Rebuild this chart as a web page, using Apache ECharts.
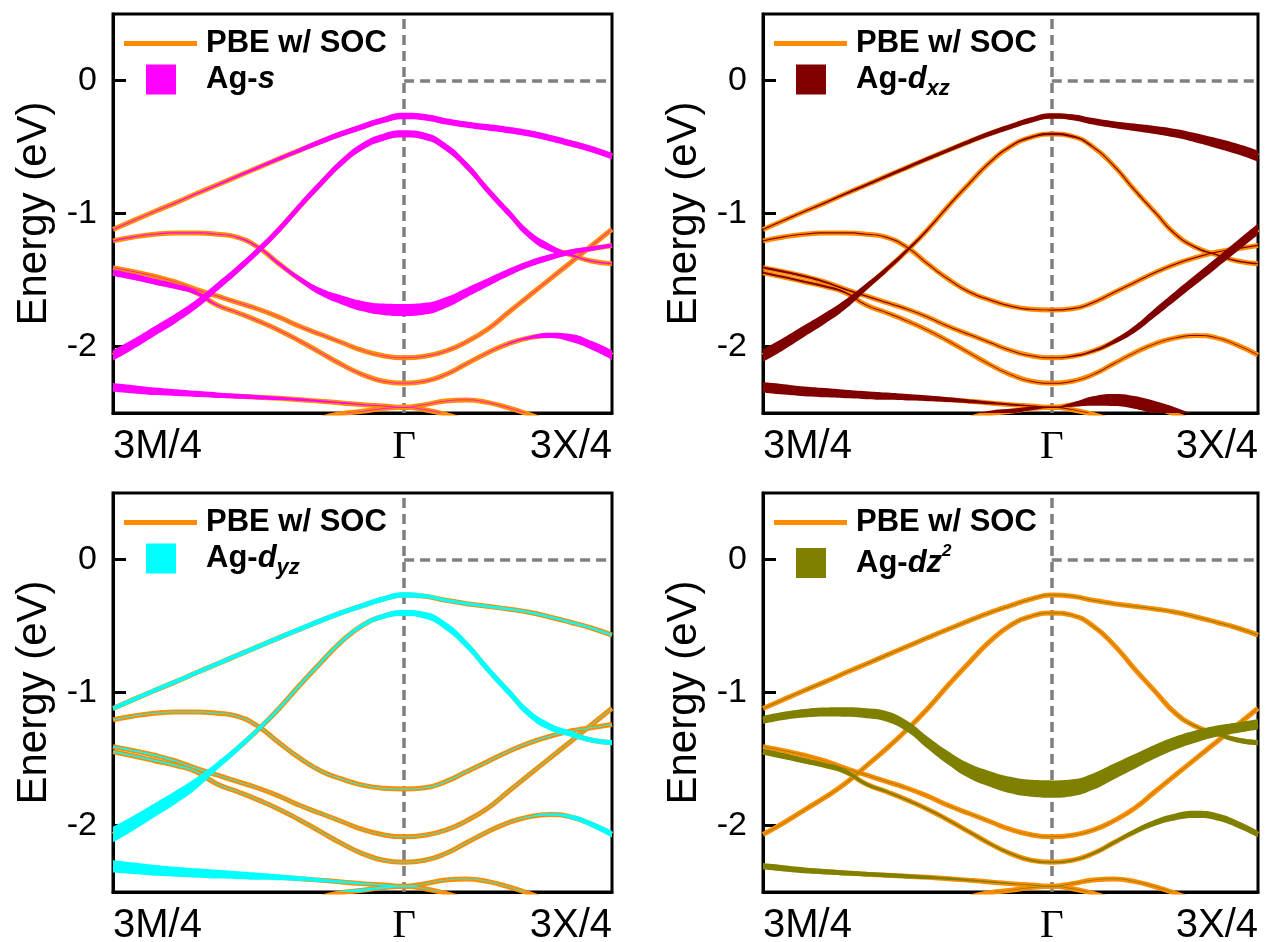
<!DOCTYPE html>
<html>
<head>
<meta charset="utf-8">
<script src="https://cdn.jsdelivr.net/npm/echarts@6/dist/echarts.min.js"></script>
<style>html,body{margin:0;padding:0;background:#fff}#c{width:1265px;height:942px}</style>
</head>
<body>
<div id="c"></div>
<script>
// ---- k-path (Γ = 0; 3M/4 on the left, 3X/4 on the right), uniform 0.1 steps ----
const kPath = [-1.4,-1.3,-1.2,-1.1,-1.0,-0.9,-0.8,-0.7,-0.6,-0.5,-0.4,-0.3,-0.2,-0.1,0,0.1,0.2,0.3,0.4,0.5,0.6,0.7,0.8,0.9,1.0];
const kTickValues = [-1.4, 0, 1.0];
const kTickLabels = ['3M/4', 'Γ', '3X/4'];
const eTickValues = [-2, -1, 0];

// ---- PBE w/ SOC band energies (eV) ----
const bandA = [-1.120,-1.052,-0.985,-0.920,-0.852,-0.786,-0.719,-0.653,-0.587,-0.523,-0.460,-0.400,-0.347,-0.297,-0.267,-0.276,-0.307,-0.332,-0.352,-0.372,-0.397,-0.432,-0.472,-0.515,-0.568];
const bandB = [-2.068,-1.980,-1.884,-1.789,-1.683,-1.553,-1.420,-1.276,-1.118,-0.942,-0.774,-0.616,-0.495,-0.427,-0.402,-0.420,-0.500,-0.640,-0.820,-0.990,-1.156,-1.256,-1.310,-1.357,-1.377];
const bandC = [-1.206,-1.176,-1.156,-1.146,-1.146,-1.156,-1.180,-1.256,-1.380,-1.495,-1.590,-1.650,-1.696,-1.720,-1.726,-1.716,-1.670,-1.595,-1.520,-1.445,-1.380,-1.330,-1.290,-1.265,-1.240];
const bandE = [-1.407,-1.437,-1.472,-1.515,-1.570,-1.620,-1.670,-1.720,-1.780,-1.850,-1.910,-1.970,-2.030,-2.070,-2.085,-2.073,-2.035,-1.965,-1.872,-1.746,-1.620,-1.495,-1.370,-1.244,-1.118];
const bandF = [-1.445,-1.477,-1.513,-1.548,-1.595,-1.688,-1.746,-1.809,-1.879,-1.960,-2.048,-2.136,-2.211,-2.261,-2.276,-2.261,-2.211,-2.130,-2.048,-1.980,-1.935,-1.917,-1.935,-1.990,-2.065];
const bandG = [-2.307,-2.322,-2.337,-2.347,-2.357,-2.366,-2.374,-2.382,-2.390,-2.400,-2.412,-2.424,-2.437,-2.447,-2.457,-2.437,-2.410,-2.402,-2.420,-2.460,-2.510,-2.570,null,null,null];
const bandH = [null,null,null,null,null,null,null,null,null,-2.600,-2.540,-2.505,-2.487,-2.467,-2.457,-2.475,-2.510,-2.560,null,null,null,null,null,null,null];

// ---- orbital weights (0..1) per band ----
// Ag-s
const wS_A = [0.06,0.06,0.07,0.08,0.09,0.10,0.12,0.15,0.20,0.25,0.30,0.33,0.35,0.36,0.37,0.37,0.37,0.37,0.37,0.37,0.37,0.37,0.37,0.37,0.37];
const wS_B = [0.60,0.58,0.56,0.55,0.52,0.48,0.45,0.42,0.42,0.42,0.42,0.42,0.42,0.42,0.42,0.42,0.44,0.45,0.45,0.45,0.45,0.42,0.15,0.08,0.08];
const wS_C = [0.07,0.07,0.07,0.07,0.07,0.07,0.08,0.12,0.20,0.30,0.42,0.52,0.60,0.66,0.70,0.68,0.62,0.55,0.48,0.42,0.38,0.35,0.30,0.25,0.22];
const wS_E = [0.04,0.04,0.04,0.04,0.04,0.04,0.04,0.04,0.04,0.04,0.04,0.04,0.04,0.04,0.04,0.04,0.04,0.04,0.04,0.04,0.04,0.04,0.04,0.04,0.04];
const wS_F = [0.38,0.36,0.34,0.30,0.25,0.10,0.05,0.04,0.04,0.04,0.04,0.04,0.04,0.04,0.04,0.04,0.04,0.04,0.05,0.08,0.15,0.30,0.45,0.50,0.55];
const wS_G = [0.50,0.47,0.44,0.40,0.36,0.32,0.28,0.24,0.20,0.16,0.12,0.09,0.06,0.05,0.04,0.04,0.04,0.04,0.04,0.04,0.04,0.04,0.04,0.04,0.04];
const wS_H = [0.04,0.04,0.04,0.04,0.04,0.04,0.04,0.04,0.04,0.04,0.04,0.04,0.04,0.04,0.04,0.04,0.04,0.04,0.04,0.04,0.04,0.04,0.04,0.04,0.04];
// Ag-dxz
const wXZ_A = [0.08,0.08,0.08,0.10,0.12,0.14,0.16,0.18,0.20,0.22,0.25,0.28,0.30,0.32,0.33,0.35,0.38,0.40,0.43,0.46,0.50,0.54,0.58,0.62,0.65];
const wXZ_B = [0.72,0.70,0.66,0.62,0.55,0.40,0.30,0.22,0.15,0.12,0.10,0.10,0.10,0.12,0.15,0.12,0.10,0.10,0.10,0.10,0.10,0.10,0.08,0.08,0.08];
const wXZ_C = [0.07,0.07,0.07,0.07,0.07,0.07,0.07,0.07,0.07,0.07,0.07,0.07,0.07,0.07,0.07,0.07,0.07,0.07,0.07,0.07,0.07,0.07,0.07,0.07,0.07];
const wXZ_E = [0.12,0.12,0.12,0.12,0.10,0.08,0.06,0.06,0.06,0.06,0.06,0.06,0.06,0.06,0.06,0.08,0.12,0.25,0.40,0.50,0.55,0.58,0.60,0.62,0.65];
const wXZ_F = [0.12,0.12,0.12,0.12,0.10,0.06,0.05,0.05,0.05,0.05,0.05,0.05,0.05,0.05,0.05,0.05,0.05,0.05,0.05,0.05,0.05,0.05,0.05,0.05,0.05];
const wXZ_G = [0.62,0.60,0.57,0.54,0.50,0.46,0.42,0.37,0.32,0.27,0.22,0.17,0.12,0.08,0.06,0.25,0.55,0.70,0.75,0.78,0.80,0.80,0.80,0.80,0.80];
const wXZ_H = [0.30,0.30,0.30,0.30,0.30,0.30,0.30,0.30,0.30,0.35,0.35,0.35,0.30,0.20,0.08,0.04,0.04,0.04,0.04,0.04,0.04,0.04,0.04,0.04,0.04];
// Ag-dyz
const wYZ_A = [0.26,0.26,0.26,0.26,0.26,0.26,0.27,0.28,0.28,0.29,0.30,0.30,0.31,0.32,0.33,0.25,0.20,0.18,0.16,0.15,0.14,0.14,0.14,0.14,0.14];
const wYZ_B = [0.90,0.85,0.80,0.75,0.65,0.45,0.38,0.30,0.22,0.20,0.20,0.22,0.25,0.30,0.35,0.40,0.45,0.45,0.45,0.45,0.45,0.42,0.35,0.30,0.30];
const wYZ_C = [0.06,0.06,0.06,0.06,0.06,0.06,0.06,0.06,0.06,0.06,0.06,0.06,0.06,0.06,0.06,0.06,0.06,0.06,0.06,0.06,0.06,0.06,0.06,0.06,0.06];
const wYZ_E = [0.10,0.10,0.10,0.10,0.08,0.05,0.04,0.04,0.04,0.04,0.04,0.04,0.04,0.04,0.04,0.04,0.04,0.04,0.04,0.04,0.04,0.04,0.04,0.04,0.04];
const wYZ_F = [0.10,0.10,0.10,0.10,0.08,0.05,0.04,0.04,0.04,0.04,0.04,0.04,0.04,0.04,0.04,0.04,0.04,0.04,0.04,0.05,0.08,0.15,0.25,0.32,0.38];
const wYZ_G = [0.70,0.66,0.62,0.58,0.54,0.50,0.45,0.40,0.34,0.28,0.22,0.16,0.12,0.08,0.06,0.04,0.04,0.04,0.04,0.04,0.04,0.04,0.04,0.04,0.04];
const wYZ_H = [0.20,0.20,0.20,0.20,0.20,0.20,0.20,0.20,0.20,0.20,0.20,0.20,0.18,0.14,0.10,0.04,0.04,0.04,0.04,0.04,0.04,0.04,0.04,0.04,0.04];
// Ag-dz2
const wZ2_A = [0.06,0.06,0.06,0.06,0.06,0.06,0.06,0.06,0.06,0.06,0.06,0.06,0.06,0.06,0.06,0.06,0.06,0.06,0.06,0.06,0.06,0.06,0.06,0.06,0.06];
const wZ2_B = [0.05,0.05,0.05,0.05,0.05,0.05,0.05,0.05,0.05,0.05,0.05,0.05,0.05,0.05,0.05,0.05,0.05,0.05,0.05,0.05,0.05,0.08,0.20,0.28,0.30];
const wZ2_C = [0.45,0.47,0.50,0.52,0.55,0.57,0.60,0.63,0.70,0.78,0.85,0.90,0.95,0.98,1.00,0.98,0.95,0.90,0.85,0.80,0.75,0.70,0.65,0.62,0.60];
const wZ2_E = [0.04,0.04,0.04,0.04,0.04,0.04,0.04,0.04,0.04,0.04,0.04,0.04,0.04,0.04,0.04,0.04,0.04,0.04,0.04,0.04,0.04,0.04,0.04,0.04,0.04];
const wZ2_F = [0.35,0.35,0.33,0.30,0.28,0.20,0.15,0.12,0.12,0.12,0.12,0.12,0.12,0.12,0.12,0.12,0.15,0.20,0.28,0.35,0.40,0.42,0.42,0.40,0.38];
const wZ2_G = [0.38,0.36,0.34,0.32,0.30,0.28,0.26,0.24,0.20,0.16,0.12,0.10,0.08,0.06,0.05,0.04,0.04,0.04,0.04,0.04,0.04,0.04,0.04,0.04,0.04];
const wZ2_H = [0.04,0.04,0.04,0.04,0.04,0.04,0.04,0.04,0.04,0.04,0.04,0.04,0.04,0.04,0.04,0.04,0.04,0.04,0.04,0.04,0.04,0.04,0.04,0.04,0.04];

const lineName = 'PBE w/ SOC';
const orbitalNames = ['Ag-s', 'Ag-dxz', 'Ag-dyz', 'Ag-dz2'];

// ---- build ----
const bands = [bandA, bandB, bandC, bandE, bandF, bandG, bandH];
const weightSets = [
  [wS_A, wS_B, wS_C, wS_E, wS_F, wS_G, wS_H],
  [wXZ_A, wXZ_B, wXZ_C, wXZ_E, wXZ_F, wXZ_G, wXZ_H],
  [wYZ_A, wYZ_B, wYZ_C, wYZ_E, wYZ_F, wYZ_G, wYZ_H],
  [wZ2_A, wZ2_B, wZ2_C, wZ2_E, wZ2_F, wZ2_G, wZ2_H]
];
const FAT = 0.13;          // eV of band thickness per unit weight
const ORANGE = '#ff8c00';
const fatColors = ['#ff00ff', '#800000', '#00ffff', '#808000'];
const legendLabels = [
  '{n|Ag-}{it|s}',
  '{n|Ag-}{it|d}{sub|xz}',
  '{n|Ag-}{it|d}{sub|yz}',
  '{n|Ag-}{it|dz}{sup|2}'
];
const gridBoxes = [
  {left: 113, top: 14, width: 499, height: 399},
  {left: 763, top: 14, width: 495, height: 399},
  {left: 113, top: 493, width: 499, height: 399},
  {left: 763, top: 493, width: 495, height: 399}
];
const FONT = '"Liberation Sans", Arial, Helvetica, sans-serif';
const kCats = kPath.map(k => String(k));
const catOf = v => String(v);

const grids = [], xAxes = [], yAxes = [], legends = [], series = [];
gridBoxes.forEach((g, p) => {
  grids.push(Object.assign({show: true, borderColor: '#000', borderWidth: 3, backgroundColor: 'transparent',
    containLabel: false, outerBoundsMode: 'none'}, g));
  xAxes.push({
    type: 'category', gridIndex: p, data: kCats, boundaryGap: false,
    axisLine: {show: true, onZero: false, lineStyle: {color: '#000', width: 3}},
    axisTick: {show: false}, splitLine: {show: false},
    axisLabel: {
      interval: (idx, val) => kTickValues.some(t => catOf(t) === val),
      showMinLabel: true, showMaxLabel: true,
      alignMinLabel: 'left', alignMaxLabel: 'right',
      margin: 14, color: '#000', fontSize: 40, fontFamily: FONT,
      formatter: val => {
        const i = kTickValues.findIndex(t => catOf(t) === val);
        const s = i < 0 ? '' : kTickLabels[i];
        return s === 'Γ' ? '{g|Γ}' : s;
      },
      rich: {g: {fontFamily: '"Liberation Serif", "Times New Roman", serif', fontSize: 41, color: '#000'}}
    }
  });
  yAxes.push({
    type: 'value', gridIndex: p, min: -2.5, max: 0.5,
    name: 'Energy (eV)', nameLocation: 'middle', nameGap: 58,
    nameTextStyle: {fontSize: 42, color: '#000', fontFamily: FONT},
    axisLine: {show: true, onZero: false, lineStyle: {color: '#000', width: 3}},
    axisTick: {show: true, customValues: eTickValues, inside: true, length: 13, lineStyle: {color: '#000', width: 3}},
    splitLine: {show: false},
    axisLabel: {customValues: eTickValues, margin: 16, color: '#000', fontSize: 34, fontFamily: FONT}
  });
  legends.push({
    orient: 'vertical', left: g.left + 11, top: g.top + 14, padding: 0, itemGap: 5,
    itemWidth: 73, itemHeight: 30, selectedMode: false, symbolKeepAspect: true, z: 10,
    data: [
      {name: lineName, icon: 'path://M0,0 M0,12.5H73V17.5H0Z M73,30'},
      {name: orbitalNames[p], icon: 'path://M0,0 M22,0H52V30H22Z M73,30'}
    ],
    formatter: name => name === lineName ? '{m|PBE w/ SOC}' : legendLabels[p],
    textStyle: {
      color: '#000', fontFamily: FONT,
      rich: {
        m: {fontSize: 31, fontWeight: 'bold', lineHeight: 30, padding: [0, 0, 0, 4], fontFamily: FONT},
        n: {fontSize: 31, fontWeight: 'bold', lineHeight: 40, padding: [0, 0, 0, 4], fontFamily: FONT},
        it: {fontSize: 31, fontWeight: 'bold', fontStyle: 'italic', lineHeight: 40, fontFamily: FONT},
        sub: {fontSize: 22, fontWeight: 'bold', fontStyle: 'italic', lineHeight: 20, verticalAlign: 'bottom', fontFamily: FONT},
        sup: {fontSize: 17, fontWeight: 'bold', fontStyle: 'italic', lineHeight: 28, verticalAlign: 'top', fontFamily: FONT}
      }
    }
  });

  bands.forEach((band, b) => {
    const w = weightSets[p][b];
    const orange = {
      type: 'line', name: lineName, xAxisIndex: p, yAxisIndex: p,
      data: band.slice(),
      smooth: true, symbol: 'none', silent: true, z: 2,
      lineStyle: {color: ORANGE, width: 5}, itemStyle: {color: ORANGE},
      emphasis: {disabled: true}
    };
    if (b === 0) {
      orange.markLine = {
        silent: true, symbol: 'none', z: 1, animation: false,
        label: {show: false},
        lineStyle: {color: '#7f7f7f', width: 3.5, type: [10, 6], opacity: 1},
        emphasis: {disabled: true},
        data: [
          {xAxis: catOf(kTickValues[1])},
          [{coord: [catOf(kTickValues[1]), 0]}, {coord: [catOf(kTickValues[2]), 0]}]
        ]
      };
    }
    series.push(orange);
    // fat band: upper edge (E + w/2) stacked with a negative thickness (-w)
    const stackId = 'fat_' + p + '_' + b;
    series.push({
      type: 'line', name: '_edge_' + p + '_' + b, xAxisIndex: p, yAxisIndex: p,
      stack: stackId, stackStrategy: 'all',
      data: band.map((e, i) => e == null ? null : e + w[i] * FAT / 2),
      smooth: true, symbol: 'none', silent: true, z: 3,
      lineStyle: {opacity: 0, width: 0}, emphasis: {disabled: true}
    });
    series.push({
      type: 'line', name: orbitalNames[p], xAxisIndex: p, yAxisIndex: p,
      stack: stackId, stackStrategy: 'all',
      data: band.map((e, i) => e == null ? null : -w[i] * FAT),
      smooth: true, symbol: 'none', silent: true, z: 3,
      lineStyle: {opacity: 0, width: 0},
      itemStyle: {color: fatColors[p]},
      areaStyle: {color: fatColors[p], opacity: 1},
      emphasis: {disabled: true}
    });
  });
});

const chart = echarts.init(document.getElementById('c'), null, {renderer: 'canvas'});
chart.setOption({
  animation: false,
  backgroundColor: '#fff',
  textStyle: {fontFamily: FONT},
  grid: grids, xAxis: xAxes, yAxis: yAxes, legend: legends, series: series
});
</script>
</body>
</html>
